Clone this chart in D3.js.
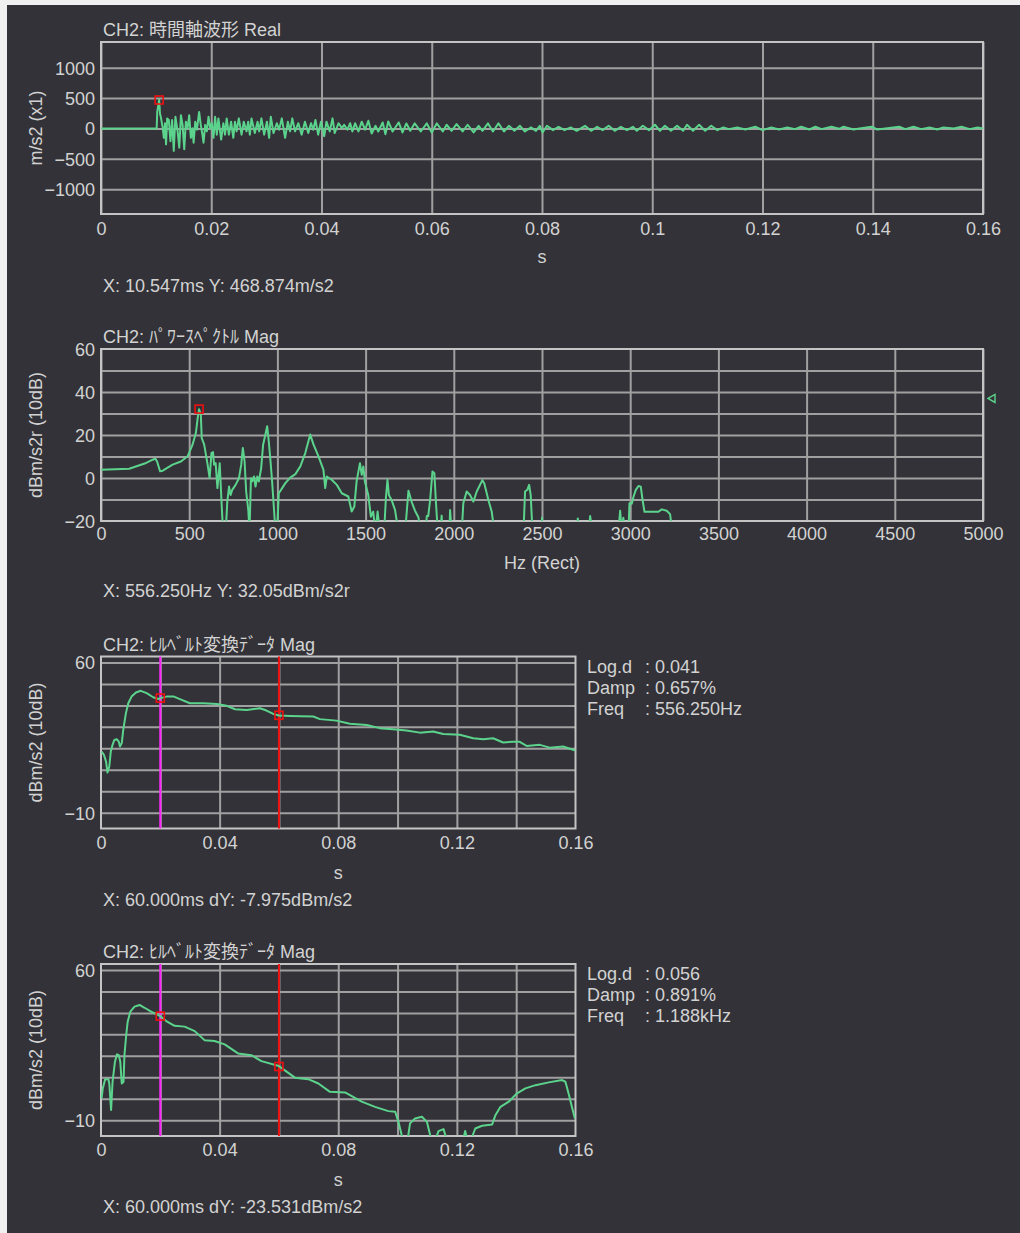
<!DOCTYPE html>
<html lang="ja">
<head>
<meta charset="UTF-8">
<title>CH2 時間軸波形 / パワースペクトル / ヒルベルト変換</title>
<style>
  body { margin: 0; background: #f0f0f0; }
  text { font-family: "Liberation Sans", "Noto Sans CJK JP", sans-serif; font-size: 18px; fill: #d2d2d2; }
</style>
</head>
<body>
<script src="https://d3js.org/d3.v7.min.js"></script>
<div id="chart"></div>
<script>
const W = 1020, H = 1233
const BG = "#333238", GRID = "#a0a0a0", FRAME = "#c4c4c4", LINE = "#5cd38c"

// ---- panel 1: time waveform [s, m/s2]
const wave = [
  [0, 0], [0.0101, 0], [0.0102, 273], [0.01055, 469], [0.0107, 246], [0.0109, 166], [0.0112, 5], [0.0114, -155],
  [0.0116, 86], [0.0118, -262], [0.0120, 166], [0.0123, 139], [0.0126, -209], [0.0129, 139], [0.0132, -369],
  [0.0135, 193], [0.0139, -48], [0.0142, -316], [0.0145, 219], [0.0148, 59], [0.0151, -342], [0.0154, 112],
  [0.0157, 5], [0.0160, 219], [0.0163, -155], [0.0166, 5], [0.0168, -235], [0.0171, 112], [0.0174, -21],
  [0.0178, 273], [0.0181, 59], [0.0184, -102], [0.0186, -235], [0.0189, 59], [0.0192, -48], [0.0195, 193],
  [0.0198, 5], [0.0201, 86], [0.0204, -155], [0.0207, 193], [0.0210, -102], [0.0213, 166], [0.0218, -182],
  [0.0222, 86], [0.0225, -102], [0.0228, 166], [0.0232, -102], [0.0236, 112], [0.0240, -155], [0.0243, 112],
  [0.0246, -48], [0.0250, 166], [0.0255, -102], [0.0259, 112], [0.0264, -48], [0.0267, 112], [0.0270, -102],
  [0.0273, 166], [0.0279, -75], [0.0284, 112], [0.0287, -48], [0.0291, 166], [0.0296, -102], [0.0301, 112],
  [0.0305, -155], [0.0308, 193], [0.0313, -75], [0.0319, 86], [0.0323, -21], [0.0328, 166], [0.0334, -155],
  [0.0339, 112], [0.0343, -48], [0.0347, 166], [0.0352, -48], [0.0358, 86], [0.0364, -102], [0.0370, 112],
  [0.0376, -75], [0.0381, 86], [0.0385, -21], [0.0389, 139], [0.0394, -102], [0.0399, 112], [0.0405, -128],
  [0.0409, 112], [0.0415, -48], [0.0420, 166], [0.0424, -75], [0.0431, 86], [0.0437, 5], [0.0441, 59],
  [0.0447, -21], [0.0452, 86], [0.0456, -48], [0.0461, 86], [0.0467, -48], [0.0473, 112], [0.0479, -21],
  [0.0485, 126], [0.0491, -83], [0.0498, 44], [0.0503, -50], [0.0511, 99], [0.0516, -94], [0.0521, 116],
  [0.0529, -50], [0.0540, 99], [0.0547, -66], [0.0554, 83], [0.0561, -39], [0.0569, 83], [0.0580, -50],
  [0.0591, 83], [0.0600, -66], [0.0609, 83], [0.0620, -50], [0.0627, 61], [0.0636, -39], [0.0645, 72],
  [0.0656, -50], [0.0665, 61], [0.0676, -66], [0.0685, 44], [0.0692, -39], [0.0702, 83], [0.0711, -50],
  [0.0721, 83], [0.0731, -50], [0.0740, 44], [0.0750, -39], [0.0760, 44], [0.0769, -50], [0.0780, 17],
  [0.0789, -39], [0.0796, 44], [0.0801, -66], [0.0809, 44], [0.0820, -28], [0.0830, 28], [0.0841, -28],
  [0.0852, 17], [0.0863, -39], [0.0878, 44], [0.0889, -39], [0.0900, 28], [0.0910, -28], [0.0921, 44],
  [0.0932, -39], [0.0943, 28], [0.0954, -28], [0.0965, 28], [0.0972, -39], [0.0983, 44], [0.0994, -28],
  [0.1005, 61], [0.1014, -39], [0.1023, 44], [0.1034, -39], [0.1045, 44], [0.1056, -39], [0.1063, 61],
  [0.1074, -39], [0.1085, 61], [0.1096, -39], [0.1107, 44], [0.1118, -28], [0.1129, 17], [0.1139, -11],
  [0.1154, 17], [0.1169, -17], [0.1187, 28], [0.1200, -28], [0.1216, 17], [0.1230, -17], [0.1245, 17],
  [0.1259, -11], [0.1270, 28], [0.1285, -17], [0.1296, 28], [0.1307, -11], [0.1325, 28], [0.1339, -6],
  [0.1347, 28], [0.1365, -17], [0.1376, 0], [0.1398, 28], [0.1408, -17], [0.1423, 0], [0.1448, 28],
  [0.1459, -11], [0.1474, 28], [0.1488, -11], [0.1503, 17], [0.1517, -17], [0.1528, 17], [0.1547, 0],
  [0.1561, 28], [0.1576, -11], [0.1590, 17], [0.16, 0]
]
const waveCursor = [0.010547, 468.874]
const waveXTicks = [0, 0.02, 0.04, 0.06, 0.08, 0.1, 0.12, 0.14, 0.16]
const waveXLabels = ["0", "0.02", "0.04", "0.06", "0.08", "0.1", "0.12", "0.14", "0.16"]
const waveYTicks = [1000, 500, 0, -500, -1000]
const waveYLabels = ["1000", "500", "0", "\u2212500", "\u22121000"]

// ---- panel 2: power spectrum [Hz, dBm/s2r]  (values under -20 are off scale)
const spec = [
  [0, 3.8], [160, 4.3], [218, 5.9], [256, 7.0], [293, 8.5], [308, 9.0], [318, 7.7], [335, 3.1], [350, 3.4],
  [406, 6.2], [453, 7.7], [491, 10.1], [519, 15.5], [538, 21.0], [547, 27.2], [556, 32.0], [566, 29.5],
  [571, 18.6], [585, 15.5], [603, 6.9], [616, 0], [626, 11.6], [635, 12.1], [641, 6.2], [650, 6.9],
  [660, -4.7], [673, 6.9], [684, -12.5], [692, -25], [707, -25], [716, -11], [726, -4], [735, -7.9],
  [744, -5.5], [763, -3.2], [782, -0.1], [795, 6.2], [804, 14], [814, 7.7], [823, -6.3], [835, -14.9],
  [842, -25], [850, -0.1], [857, -1.6], [867, 0.7], [876, -4], [886, 0.7], [895, -1.6], [908, 4.6],
  [919, 15.5], [932, 20.2], [942, 24.1], [951, 17.1], [961, 7.7], [970, -1.6], [979, -12.5], [989, -25],
  [998, -25], [1008, -7.1], [1027, -4.7], [1045, -2.4], [1073, 0.2], [1102, 1.8], [1130, 5.4], [1158, 11.6],
  [1186, 20.2], [1205, 15.5], [1233, 10.1], [1261, 3.8], [1271, -4.7], [1280, 0.7], [1308, -0.8],
  [1337, -3.2], [1365, -7.1], [1402, -8.6], [1421, -15.6], [1436, -13.3], [1449, -1.6], [1468, 6.9],
  [1478, 1.5], [1487, 5.4], [1496, -1.6], [1515, -7.9], [1530, -18], [1543, -15.6], [1556, -25],
  [1568, -15.6], [1581, -25], [1605, -25], [1615, -9.4], [1624, -0.8], [1632, -7.9], [1647, -10.2],
  [1667, -14.9], [1686, -25], [1724, -25], [1743, -5.9], [1762, -11.3], [1780, -15.2], [1800, -18.4],
  [1810, -25], [1840, -25], [1847, -17.7], [1855, -17.7], [1866, -10.2], [1879, 3.0], [1890, 2.2],
  [1898, -10.2], [1909, -25], [1925, -25], [1931, -17.5], [1937, -25], [1975, -25], [1979, -14.9],
  [1988, -25], [2045, -25], [2054, -11.7], [2073, -6.3], [2092, -7.9], [2111, -11], [2130, -6.3],
  [2162, -1], [2173, -2.6], [2196, -10.2], [2215, -15.7], [2230, -25], [2395, -25], [2404, -6.3],
  [2417, -5.5], [2427, -3.2], [2436, -7.9], [2446, -25], [2497, -25], [2500, -18.5], [2503, -25],
  [2697, -25], [2703, -18.8], [2708, -25], [2765, -25], [2773, -17.7], [2786, -25], [2933, -25],
  [2943, -15.2], [2952, -25], [2961, -18.5], [2970, -25], [2990, -25], [2996, -11.7], [3009, -12],
  [3019, -8.6], [3032, -5.5], [3047, -3.7], [3060, -4], [3070, -10.2], [3081, -15.7], [3160, -15.7],
  [3179, -14.6], [3207, -15.2], [3226, -16.8], [3239, -25], [5000, -25]
]
const specCursor = [556.25, 32.05]
const specLevel = 37
const specXTicks = [0, 500, 1000, 1500, 2000, 2500, 3000, 3500, 4000, 4500, 5000]
const specYGrid = [50, 40, 30, 20, 10, 0, -10]
const specYTicks = [60, 40, 20, 0, -20]
const specYLabels = ["60", "40", "20", "0", "\u221220"]

// ---- panels 3/4: hilbert envelope [s, dBm/s2]
const hilb1 = [
  [0.0002, 18.5], [0.001, 16.9], [0.0017, 13.8], [0.0022, 8.7], [0.0028, 11.5], [0.0033, 18.5], [0.0039, 21.6],
  [0.0045, 23.9], [0.0053, 24.2], [0.006, 23.1], [0.0064, 20.8], [0.007, 22.4], [0.0075, 28.6], [0.0084, 36.4],
  [0.0092, 41.0], [0.0103, 44.1], [0.0118, 46.0], [0.0134, 46.8], [0.0154, 45.7], [0.0176, 43.8], [0.0193, 43.0],
  [0.02, 43.4], [0.0221, 44.1], [0.0246, 44.1], [0.0272, 42.6], [0.03, 41.0], [0.0345, 41.0], [0.039, 40.7],
  [0.0424, 39.8], [0.0452, 38.2], [0.0491, 37.9], [0.0536, 38.7], [0.0558, 37.6], [0.0581, 36.0], [0.06, 35.3],
  [0.0637, 35.1], [0.0716, 34.8], [0.0738, 33.6], [0.0794, 32.9], [0.0839, 31.4], [0.0896, 30.9], [0.094, 29.4],
  [0.0985, 28.9], [0.103, 28.3], [0.1075, 27.3], [0.112, 27.8], [0.1154, 26.7], [0.121, 26.3], [0.1255, 24.7],
  [0.1289, 24.2], [0.1322, 24.7], [0.1356, 22.7], [0.139, 23.1], [0.1412, 23.0], [0.1435, 21.1], [0.148, 21.6],
  [0.1513, 20.3], [0.1558, 20.8], [0.1592, 19.3], [0.16, 18.9]
]
const hilb2 = [
  [0.0002, 0.1], [0.0006, 4.8], [0.0014, 9.1], [0.0025, 9.1], [0.0028, 7.1], [0.0034, -5.3], [0.0039, 7.9],
  [0.0047, 17.2], [0.0054, 20.7], [0.006, 20.3], [0.0065, 17.2], [0.007, 7.1], [0.0076, 7.9], [0.0079, 20.3],
  [0.0085, 29.7], [0.009, 35.9], [0.0099, 40.6], [0.0113, 42.9], [0.013, 43.7], [0.0147, 42.4], [0.0169, 40.6],
  [0.02, 38.5], [0.022, 36.2], [0.0248, 34.0], [0.0282, 33.6], [0.0316, 31.5], [0.0349, 27.3], [0.0383, 26.9],
  [0.0417, 25.3], [0.0462, 21.1], [0.0507, 20.3], [0.0541, 17.5], [0.06, 15.2], [0.0654, 9.8], [0.0699, 9.1],
  [0.0733, 7.1], [0.0772, 3.2], [0.0823, 2.9], [0.0879, -1.4], [0.0924, -3.8], [0.0969, -5.8], [0.0992, -6.1],
  [0.1003, -10.8], [0.1014, -17], [0.1022, -22], [0.1031, -22], [0.1042, -11.5], [0.1059, -9.2], [0.1082, -8.4],
  [0.1099, -10.8], [0.1110, -17], [0.1116, -22], [0.1121, -22], [0.1138, -15.1], [0.1155, -14.2], [0.1172, -22],
  [0.1217, -22], [0.1228, -15.1], [0.1240, -22], [0.1262, -13.9], [0.1285, -12.6], [0.1319, -12.0], [0.1330, -7.7],
  [0.1347, -3.8], [0.1375, -1.4], [0.1403, 2.5], [0.1431, 4.8], [0.1465, 6.3], [0.1510, 7.6], [0.1555, 8.7],
  [0.1566, 7.9], [0.1578, 1.7], [0.1589, -4.5], [0.1598, -9.2]
]
const cursorT = [0.02, 0.06]
const hilb1Cursor = [43.4, 35.4]
const hilb2Cursor = [38.5, 15.0]
const hilbXGrid = [0.02, 0.04, 0.06, 0.08, 0.1, 0.12, 0.14]
const hilbXTicks = [0, 0.04, 0.08, 0.12, 0.16]
const hilbXLabels = ["0", "0.04", "0.08", "0.12", "0.16"]
const hilbYGrid = [60, 50, 40, 30, 20, 10, 0, -10]
const hilbYTicks = [60, -10]
const hilbYLabels = ["60", "\u221210"]
const statNames = ["Log.d", "Damp", "Freq"]
const stats1 = ["0.041", "0.657%", "556.250Hz"]
const stats2 = ["0.056", "0.891%", "1.188kHz"]

const svg = d3.select("#chart").append("svg").attr("width", W).attr("height", H)
svg.append("rect").attr("x", 7).attr("y", 5).attr("width", W - 7).attr("height", H - 5).attr("fill", BG)

let clipN = 0
function drawPanel(p) {
  const g = svg.append("g")
  const [x0, x1] = p.x.range()
  const [yb, yt] = p.y.range()
  const w = x1 - x0, h = yb - yt

  g.append("g").attr("transform", `translate(0,${yb})`)
    .call(d3.axisBottom(p.x).tickValues(p.xGrid).tickSize(-h).tickFormat(""))
    .call(a => a.select(".domain").remove())
    .selectAll("line").attr("stroke", GRID).attr("stroke-width", 2)
  g.append("g").attr("transform", `translate(${x0},0)`)
    .call(d3.axisLeft(p.y).tickValues(p.yGrid).tickSize(-w).tickFormat(""))
    .call(a => a.select(".domain").remove())
    .selectAll("line").attr("stroke", GRID).attr("stroke-width", 2)
  g.append("rect").attr("x", x0).attr("y", yt).attr("width", w).attr("height", h)
    .attr("fill", "none").attr("stroke", FRAME).attr("stroke-width", 2)

  // tick labels
  g.append("g").attr("transform", `translate(0,${yb})`)
    .call(d3.axisBottom(p.x).tickValues(p.xTicks).tickSize(0).tickFormat((d, i) => p.xLabels[i]))
    .call(a => a.select(".domain").remove())
    .selectAll("text").attr("y", p.xLabelY).attr("dy", null)
  g.append("g").attr("transform", `translate(${x0},0)`)
    .call(d3.axisLeft(p.y).tickValues(p.yTicks).tickSize(0).tickPadding(6).tickFormat((d, i) => p.yLabels[i]))
    .call(a => a.select(".domain").remove())
    .selectAll("text").attr("dy", "0.36em")

  // cursor lines (hilbert panels)
  if (p.cursorLines) {
    g.selectAll(".cl").data(p.cursorLines).join("line")
      .attr("x1", d => p.x(d.t)).attr("x2", d => p.x(d.t))
      .attr("y1", yt).attr("y2", yb)
      .attr("stroke", d => d.c).attr("stroke-width", 2)
  }

  const id = "clip" + (clipN++)
  svg.append("clipPath").attr("id", id).append("rect")
    .attr("x", x0).attr("y", yt).attr("width", w).attr("height", h)
  g.append("path").datum(p.data)
    .attr("clip-path", `url(#${id})`)
    .attr("fill", "none").attr("stroke", LINE).attr("stroke-width", 2)
    .attr("stroke-linejoin", "round")
    .attr("d", d3.line().x(d => p.x(d[0])).y(d => p.y(d[1])))

  g.selectAll(".mk").data(p.markers).join("rect")
    .attr("x", d => p.x(d[0]) - 4).attr("y", d => p.y(d[1]) - 4)
    .attr("width", 8).attr("height", 8)
    .attr("fill", "none").attr("stroke", "#ee1111").attr("stroke-width", 1.6)

  // titles
  g.append("text").attr("x", 103).attr("y", yt + p.titleDy).text(p.title)
  g.append("text").attr("transform", `translate(42,${(yt + yb) / 2}) rotate(-90)`)
    .attr("text-anchor", "middle").text(p.yTitle)
  if (p.xTitle) {
    g.append("text").attr("x", (x0 + x1) / 2).attr("y", yb + p.xTitleDy)
      .attr("text-anchor", "middle").text(p.xTitle)
  }
  g.append("text").attr("x", 103).attr("y", yb + p.readoutDy).text(p.readout)
  return g
}

// panel 1
drawPanel({
  x: d3.scaleLinear().domain([0, 0.16]).range([101, 983]),
  y: d3.scaleLinear().domain([-1410, 1425]).range([214, 42]),
  xGrid: waveXTicks, yGrid: waveYTicks,
  xTicks: waveXTicks, xLabels: waveXLabels, xLabelY: 21,
  yTicks: waveYTicks, yLabels: waveYLabels,
  data: wave, markers: [waveCursor],
  title: "CH2: 時間軸波形 Real", titleDy: -6,
  yTitle: "m/s2 (x1)", xTitle: "s", xTitleDy: 49,
  readout: "X: 10.547ms Y: 468.874m/s2", readoutDy: 78
})

// panel 2
const specY = d3.scaleLinear().domain([-20, 60]).range([521, 349])
const g2 = drawPanel({
  x: d3.scaleLinear().domain([0, 5000]).range([101, 983]),
  y: specY,
  xGrid: specXTicks, yGrid: specYGrid,
  xTicks: specXTicks, xLabels: specXTicks.map(String), xLabelY: 19,
  yTicks: specYTicks, yLabels: specYLabels,
  data: spec, markers: [specCursor],
  title: "CH2: ﾊﾟﾜｰｽﾍﾟｸﾄﾙ Mag", titleDy: -6,
  yTitle: "dBm/s2r (10dB)", xTitle: "Hz (Rect)", xTitleDy: 48,
  readout: "X: 556.250Hz Y: 32.05dBm/s2r", readoutDy: 76
})
const ly = specY(specLevel)
g2.append("path")
  .attr("d", `M988,${ly} L995,${ly - 4} L995,${ly + 4} Z`)
  .attr("fill", "none").attr("stroke", LINE).attr("stroke-width", 1.4)

// panels 3 and 4
function hilbPanel(top, data, marks, readout, stats) {
  const x = d3.scaleLinear().domain([0, 0.16]).range([101, 575.5])
  const y = d3.scaleLinear().domain([-17.4, 62.8]).range([top + 172, top])
  const g = drawPanel({
    x, y,
    xGrid: hilbXGrid, yGrid: hilbYGrid,
    xTicks: hilbXTicks, xLabels: hilbXLabels, xLabelY: 20,
    yTicks: hilbYTicks, yLabels: hilbYLabels,
    cursorLines: [{ t: cursorT[0], c: "#ff22ff" }, { t: cursorT[1], c: "#ee1111" }],
    data, markers: cursorT.map((t, i) => [t, marks[i]]),
    title: "CH2: ﾋﾙﾍﾞﾙﾄ変換ﾃﾞｰﾀ Mag", titleDy: -6,
    yTitle: "dBm/s2 (10dB)", xTitle: "s", xTitleDy: 50,
    readout, readoutDy: 77
  })
  statNames.forEach((n, i) => {
    const by = top + 16 + i * 21
    g.append("text").attr("x", 587).attr("y", by).text(n)
    g.append("text").attr("x", 645).attr("y", by).text(":")
    g.append("text").attr("x", 655).attr("y", by).text(stats[i])
  })
}
hilbPanel(656.5, hilb1, hilb1Cursor, "X: 60.000ms dY: -7.975dBm/s2", stats1)
hilbPanel(964, hilb2, hilb2Cursor, "X: 60.000ms dY: -23.531dBm/s2", stats2)
</script>
</body>
</html>
